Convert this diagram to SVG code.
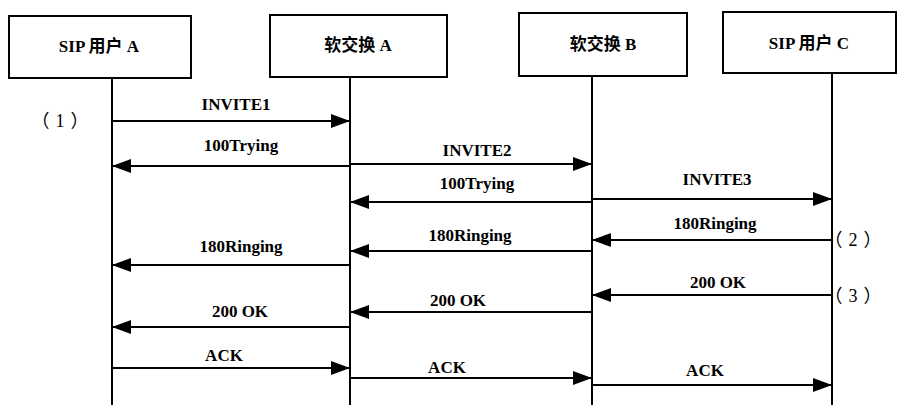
<svg xmlns="http://www.w3.org/2000/svg" width="897" height="405" viewBox="0 0 897 405">
<defs>
<marker id="ah" markerUnits="userSpaceOnUse" markerWidth="20" markerHeight="14" refX="19" refY="7" orient="auto">
<path d="M0,0 L19,7 L0,14 Z" fill="#000"/>
</marker>
<style>
.box{fill:#fff;stroke:#000;stroke-width:2}
.life{stroke:#000;stroke-width:2;fill:none}
.msg{stroke:#000;stroke-width:2.2;fill:none;marker-end:url(#ah)}
.t{font-family:"Liberation Serif","Noto Sans CJK SC",serif;font-size:17px;font-weight:bold;fill:#000;text-anchor:middle}
.n{font-family:"Liberation Serif","Noto Sans CJK SC",serif;font-size:18px;letter-spacing:6px;fill:#000;text-anchor:middle}
</style>
</defs>
<rect width="897" height="405" fill="#fff"/>
<g id="sipA"><rect class="box" x="9" y="16" width="182" height="62"/><text class="t" x="99" y="52">SIP 用户 A</text><line class="life" x1="112" y1="78" x2="112" y2="405"/></g>
<g id="softA"><rect class="box" x="270" y="15" width="177" height="62"/><text class="t" x="358" y="51">软交换 A</text><line class="life" x1="350" y1="77" x2="350" y2="405"/></g>
<g id="softB"><rect class="box" x="519" y="13" width="168" height="63"/><text class="t" x="603" y="50">软交换 B</text><line class="life" x1="592" y1="76" x2="592" y2="405"/></g>
<g id="sipC"><rect class="box" x="723" y="12" width="173" height="61"/><text class="t" x="809" y="49">SIP 用户 C</text><line class="life" x1="832" y1="73" x2="832" y2="405"/></g>
<g id="connectors">
<line class="msg" x1="112" y1="121" x2="350" y2="121"/>
<line class="msg" x1="350" y1="166" x2="112" y2="166"/>
<line class="msg" x1="350" y1="164" x2="592" y2="164"/>
<line class="msg" x1="592" y1="202" x2="350" y2="202"/>
<line class="msg" x1="592" y1="199" x2="832" y2="199"/>
<line class="msg" x1="832" y1="240" x2="592" y2="240"/>
<line class="msg" x1="592" y1="251" x2="350" y2="251"/>
<line class="msg" x1="350" y1="265" x2="112" y2="265"/>
<line class="msg" x1="832" y1="295" x2="592" y2="295"/>
<line class="msg" x1="592" y1="312" x2="350" y2="312"/>
<line class="msg" x1="350" y1="327" x2="112" y2="327"/>
<line class="msg" x1="112" y1="368" x2="350" y2="368"/>
<line class="msg" x1="350" y1="378" x2="592" y2="378"/>
<line class="msg" x1="592" y1="385" x2="832" y2="385"/>
</g>
<g id="labels">
<text class="t" x="236" y="110">INVITE1</text>
<text class="t" x="241" y="151">100Trying</text>
<text class="t" x="477" y="156">INVITE2</text>
<text class="t" x="477" y="189">100Trying</text>
<text class="t" x="717" y="185">INVITE3</text>
<text class="t" x="715" y="229">180Ringing</text>
<text class="t" x="470" y="241">180Ringing</text>
<text class="t" x="241" y="252">180Ringing</text>
<text class="t" x="718" y="288">200 OK</text>
<text class="t" x="458" y="306">200 OK</text>
<text class="t" x="240" y="317">200 OK</text>
<text class="t" x="224" y="361">ACK</text>
<text class="t" x="447" y="373">ACK</text>
<text class="t" x="705" y="376">ACK</text>
<text class="n" x="63" y="127">（1）</text>
<text class="n" x="856" y="246">（2）</text>
<text class="n" x="856" y="302">（3）</text>
</g>
</svg>
